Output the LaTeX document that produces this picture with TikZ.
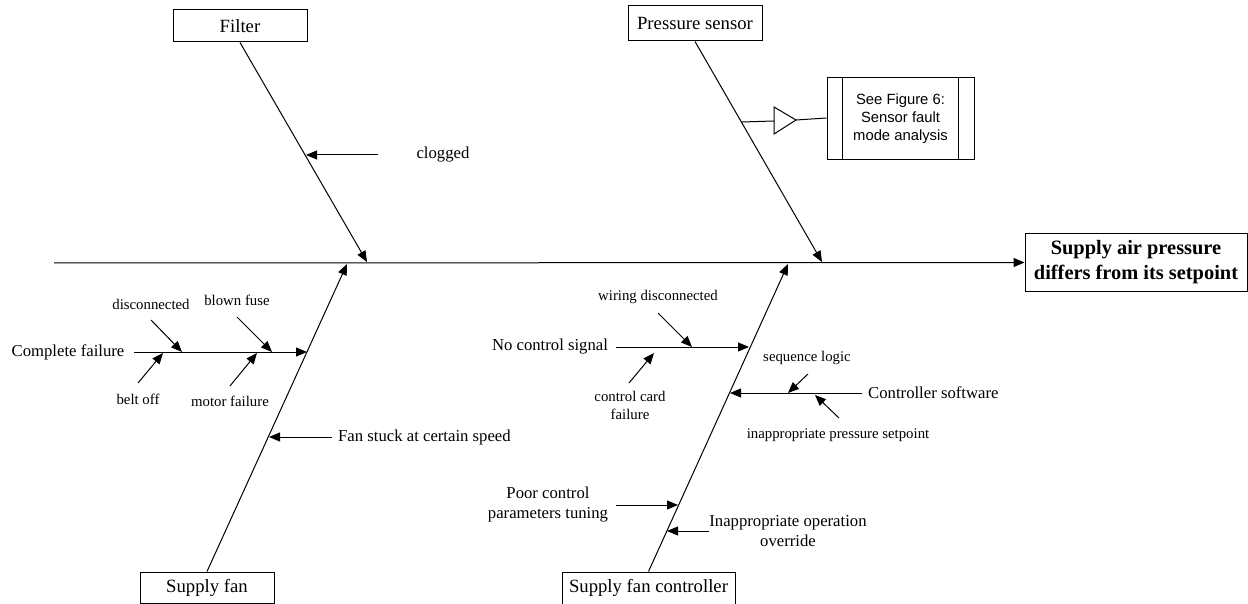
\documentclass[tikz,border=0pt]{standalone}
\usepackage{fontspec}
\setmainfont{Liberation Serif}
\newfontfamily\arialf{Liberation Sans}
\usetikzlibrary{arrows.meta}
\begin{document}
\begin{tikzpicture}[x=1pt,y=-1pt,
  box/.style={draw,line width=1pt,minimum width=134pt,minimum height=32pt,inner sep=0pt,font=\fontsize{18.7}{22}\selectfont},
  big/.style={inner sep=0pt,align=center,font=\fontsize{16.7}{20}\selectfont},
  small/.style={inner sep=0pt,align=center,font=\fontsize{14.8}{18}\selectfont},
  arr/.style={line width=1pt,-{Triangle[length=11pt,width=9pt]}},
  plain/.style={line width=1pt}]
\useasboundingbox (0,0) rectangle (1248,604);

% category boxes
\node[box] (filter) at (240,26) {Filter};
\node[box,minimum height=35pt] (ps) at (695,23.5) {Pressure sensor};
\node[box,minimum height=31pt] (sf) at (207,587.5) {Supply fan};
\node[box,minimum width=173pt] (sfc) at (648.5,588) {Supply fan controller};
\node[box,minimum width=222pt,minimum height=57pt,align=center,font=\bfseries\fontsize{20.4}{25}\selectfont] (eff) at (1136,262.5) {Supply air pressure\\differs from its setpoint};

% sensor reference box
\node[draw,line width=1pt,minimum width=147pt,minimum height=82pt,inner sep=0pt,align=center,font=\arialf\fontsize{14.8}{18}\selectfont] (sb) at (900.5,119) {See Figure 6:\\Sensor fault\\mode analysis};
\draw[plain] ([xshift=16pt]sb.north west) -- ([xshift=16pt]sb.south west);
\draw[plain] ([xshift=-16pt]sb.north east) -- ([xshift=-16pt]sb.south east);

% spine
\coordinate (tail) at (54,263);
\draw[arr] (tail) -- (eff.west);

% main bones
\coordinate (fj) at (367,262);
\coordinate (pj) at (822,262);
\coordinate (sfj) at (347,264);
\coordinate (cj) at (788,264);
\draw[arr] (filter.south) -- (fj);
\draw[arr] (ps.south) -- (pj);
\draw[arr] (sf.north) -- (sfj);
\draw[arr] (sfc.north) -- (cj);

% pressure sensor -> triangle -> box
\coordinate (pb) at (742,122);
\coordinate (triin) at (774,121);
\coordinate (triout) at (796,120);
\draw[plain] (pb) -- (triin);
\draw[plain,line join=miter] (774,107) -- (triout) -- (774,134) -- cycle;
\draw[plain] (triout) -- (sb.west |- 0,118);

% filter
\node[big] (clog) at (443,155) {clogged};
\coordinate (clogs) at (378,155);
\coordinate (clogt) at (306,155);
\draw[arr] (clogs) -- (clogt);

% supply fan
\node[big] (cf) at (68,352) {Complete failure};
\coordinate (cfs) at (134,352);
\coordinate (cft) at (307,352);
\draw[arr] (cfs) -- (cft);

\node[small] (disc) at (151,304) {disconnected};
\coordinate (discs) at (151,320);
\coordinate (disct) at (182,352);
\draw[arr] (discs) -- (disct);

\node[small] (fuse) at (237,300) {blown fuse};
\coordinate (fuses) at (237,317);
\coordinate (fuset) at (272,352);
\draw[arr] (fuses) -- (fuset);

\node[small] (belt) at (138,399) {belt off};
\coordinate (belts) at (138,383);
\coordinate (beltt) at (163,353);
\draw[arr] (belts) -- (beltt);

\node[small] (motor) at (230,401) {motor failure};
\coordinate (motors) at (230,386);
\coordinate (motort) at (257,353);
\draw[arr] (motors) -- (motort);

\node[big,anchor=west] (stuck) at (338,437) {Fan stuck at certain speed};
\coordinate (stucks) at (332,437);
\coordinate (stuckt) at (269,437);
\draw[arr] (stucks) -- (stuckt);

% supply fan controller
\node[big] (ncs) at (550,347) {No control signal};
\coordinate (ncss) at (616,347);
\coordinate (ncst) at (749,347);
\draw[arr] (ncss) -- (ncst);

\node[small] (wire) at (658,297) {wiring disconnected};
\coordinate (wires) at (658,313);
\coordinate (wiret) at (692,347);
\draw[arr] (wires) -- (wiret);

\node[small] (card) at (630,405) {control card\\failure};
\coordinate (cards) at (629,383);
\coordinate (cardt) at (654,353);
\draw[arr] (cards) -- (cardt);

\node[big,anchor=west] (csw) at (868,393) {Controller software};
\coordinate (csws) at (862,393);
\coordinate (cswt) at (730,393);
\draw[arr] (csws) -- (cswt);

\node[small] (seq) at (807,358) {sequence logic};
\coordinate (seqs) at (808,374);
\coordinate (seqt) at (788,393);
\draw[arr] (seqs) -- (seqt);

\node[small] (ips) at (838,435) {inappropriate pressure setpoint};
\coordinate (ipss) at (839,418);
\coordinate (ipst) at (815,395);
\draw[arr] (ipss) -- (ipst);

\node[big] (poor) at (548,505) {Poor control\\parameters tuning};
\coordinate (poors) at (616,505);
\coordinate (poort) at (678,505);
\draw[arr] (poors) -- (poort);

\node[big] (ovr) at (788,531) {Inappropriate operation\\override};
\coordinate (ovrs) at (709,531);
\coordinate (ovrt) at (667,531);
\draw[arr] (ovrs) -- (ovrt);
\end{tikzpicture}
\end{document}
